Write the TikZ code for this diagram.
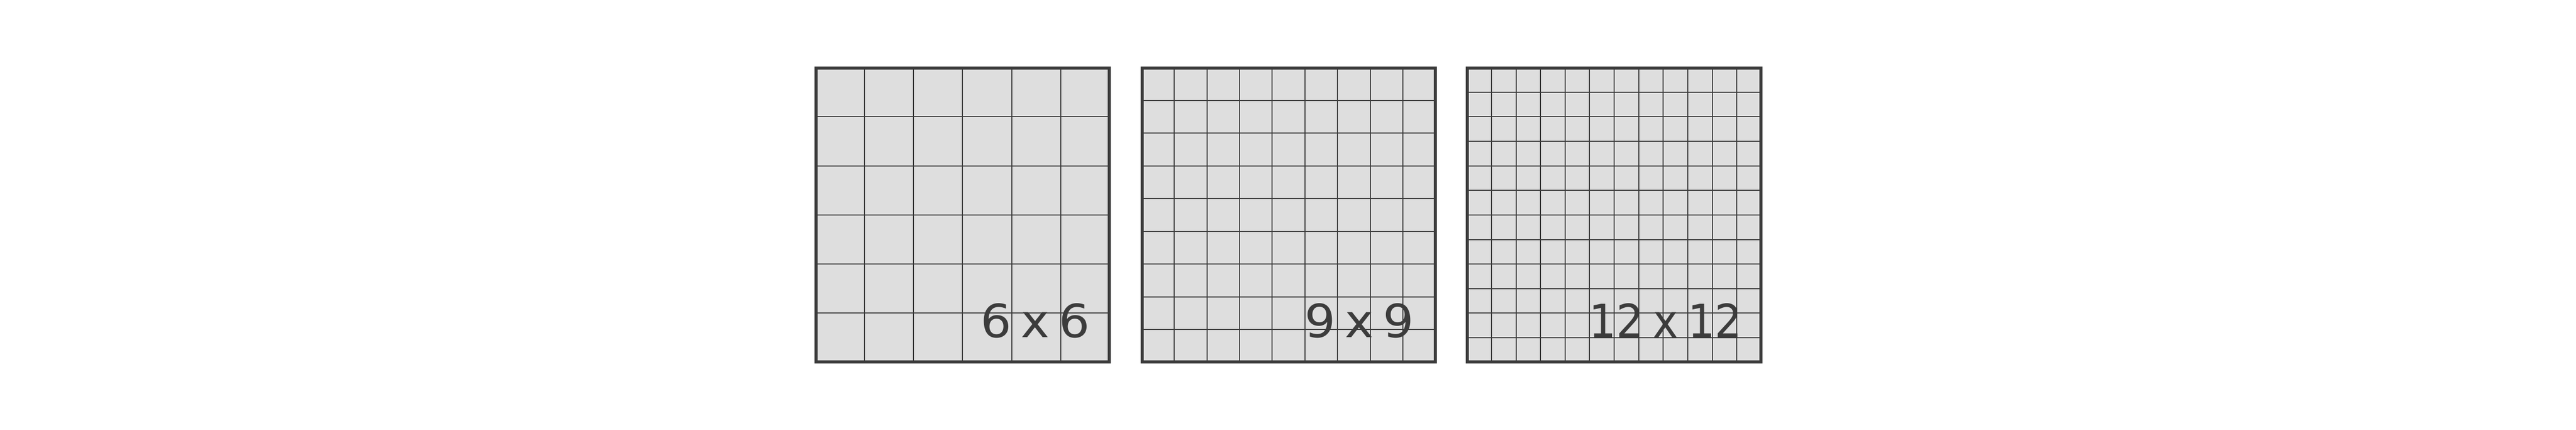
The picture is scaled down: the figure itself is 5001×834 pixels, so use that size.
\documentclass[tikz,border=0pt]{standalone}
\usepackage{fontspec}
\setmainfont{DejaVu Sans}
\usetikzlibrary{calc}
\definecolor{cellfill}{HTML}{DEDEDE}
\definecolor{ink}{HTML}{3C3C3C}
\tikzset{
  board/.style={rectangle, draw=ink, fill=cellfill, line width=4pt, minimum size=567.4pt, inner sep=0pt},
  gl/.style={draw=ink, line width=2pt},
  lbl/.style={inner sep=0pt, text=ink, font=\fontsize{89}{100}\selectfont, anchor=base west}
}
\begin{document}
\begin{tikzpicture}[x=1pt,y=-1pt]
\useasboundingbox (0,0) rectangle (5001,834);
\node[board] (g6) at (1868.7,417) {};
\node[board] (g9) at (2501.7,417) {};
\node[board] (g12) at (3133.7,417) {};
\foreach \b/\n in {g6/6,g9/9,g12/12}{
  \pgfmathtruncatemacro{\m}{\n-1}
  \foreach \i in {1,...,\m}{
    \draw[gl] ($(\b.north west)!\i/\n!(\b.north east)$) -- ($(\b.south west)!\i/\n!(\b.south east)$);
    \draw[gl] ($(\b.north west)!\i/\n!(\b.south west)$) -- ($(\b.north east)!\i/\n!(\b.south east)$);
  }
  \draw[draw=ink, line width=4pt] (\b.north west) rectangle (\b.south east);
}
\node[lbl] (t6) at (1903.7,655) {\scalebox{1.06}[1]{6\hspace{17pt}x\hspace{17pt}6}};
\node[lbl] (t9) at (2532.7,655) {\scalebox{1.06}[1]{9\hspace{17pt}x\hspace{17pt}9}};
\node[lbl] (t12) at (3085,655) {\scalebox{0.93}[1]{12\hspace{20pt}x\hspace{20pt}12}};
\end{tikzpicture}
\end{document}
